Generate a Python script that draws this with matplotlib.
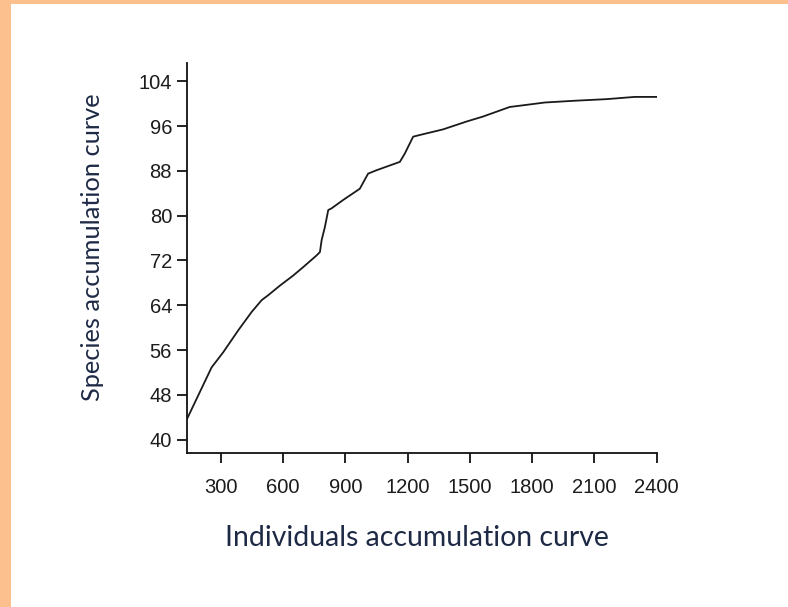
import matplotlib
matplotlib.use("Agg")
from matplotlib import pyplot as plt
from matplotlib.patches import Rectangle

individuals = [139, 256, 312, 384, 449, 497, 529, 585, 649, 697, 762, 778, 786, 802,
               818, 834, 890, 970, 1010, 1050, 1163, 1187, 1227, 1259, 1371, 1484,
               1564, 1692, 1756, 1861, 1997, 2158, 2294, 2398]
species = [43.8, 52.9, 55.6, 59.5, 62.8, 64.9, 65.8, 67.5, 69.3, 70.8, 72.9, 73.5,
           75.6, 78.0, 81.0, 81.3, 82.8, 84.8, 87.5, 88.1, 89.6, 91.1, 94.1, 94.4,
           95.4, 96.8, 97.7, 99.4, 99.7, 100.2, 100.5, 100.8, 101.2, 101.2]

x_ticks = [300, 600, 900, 1200, 1500, 1800, 2100, 2400]
y_ticks = [40, 48, 56, 64, 72, 80, 88, 96, 104]

fig = plt.figure(figsize=(7.88, 6.07), dpi=100)
fig.patch.set_facecolor('white')

# peach frame on the top and left edges
border = '#FCC08E'
fig.patches.append(Rectangle((0, 0), 11 / 788, 1, transform=fig.transFigure,
                             facecolor=border, edgecolor='none', zorder=0))
fig.patches.append(Rectangle((0, 1 - 4 / 607), 1, 4 / 607, transform=fig.transFigure,
                             facecolor=border, edgecolor='none', zorder=0))

ax = fig.add_axes([0.2369, 0.2545, 0.5964, 0.6412])
ax.plot(individuals, species, color='#1a1a1a', lw=1.3)

ax.set_xlim(136, 2400)
ax.set_ylim(37.7, 107.2)
ax.set_xticks(x_ticks)
ax.set_yticks(y_ticks)

for side in ['top', 'right']:
    ax.spines[side].set_visible(False)
for side in ['left', 'bottom']:
    ax.spines[side].set_linewidth(1.3)
    ax.spines[side].set_color('#111111')

ax.tick_params(axis='both', direction='out', length=7.5, width=1.3, color='#111111')
ax.tick_params(axis='x', pad=11)
ax.tick_params(axis='y', pad=3)
for lab in ax.get_xticklabels() + ax.get_yticklabels():
    lab.set_fontfamily('Liberation Sans')
    lab.set_fontsize(14.5)
    lab.set_color('#1c1c1c')

label_color = '#1e2a45'
fig.text(0.529, 0.1137, 'Individuals accumulation curve', ha='center', va='center',
         fontsize=20.4, family='Lato', color=label_color)
fig.text(0.118, 0.593, 'Species accumulation curve', ha='center', va='center',
         rotation=90, fontsize=18.3, family='Lato', color=label_color)

fig.savefig('out.png', dpi=100)
